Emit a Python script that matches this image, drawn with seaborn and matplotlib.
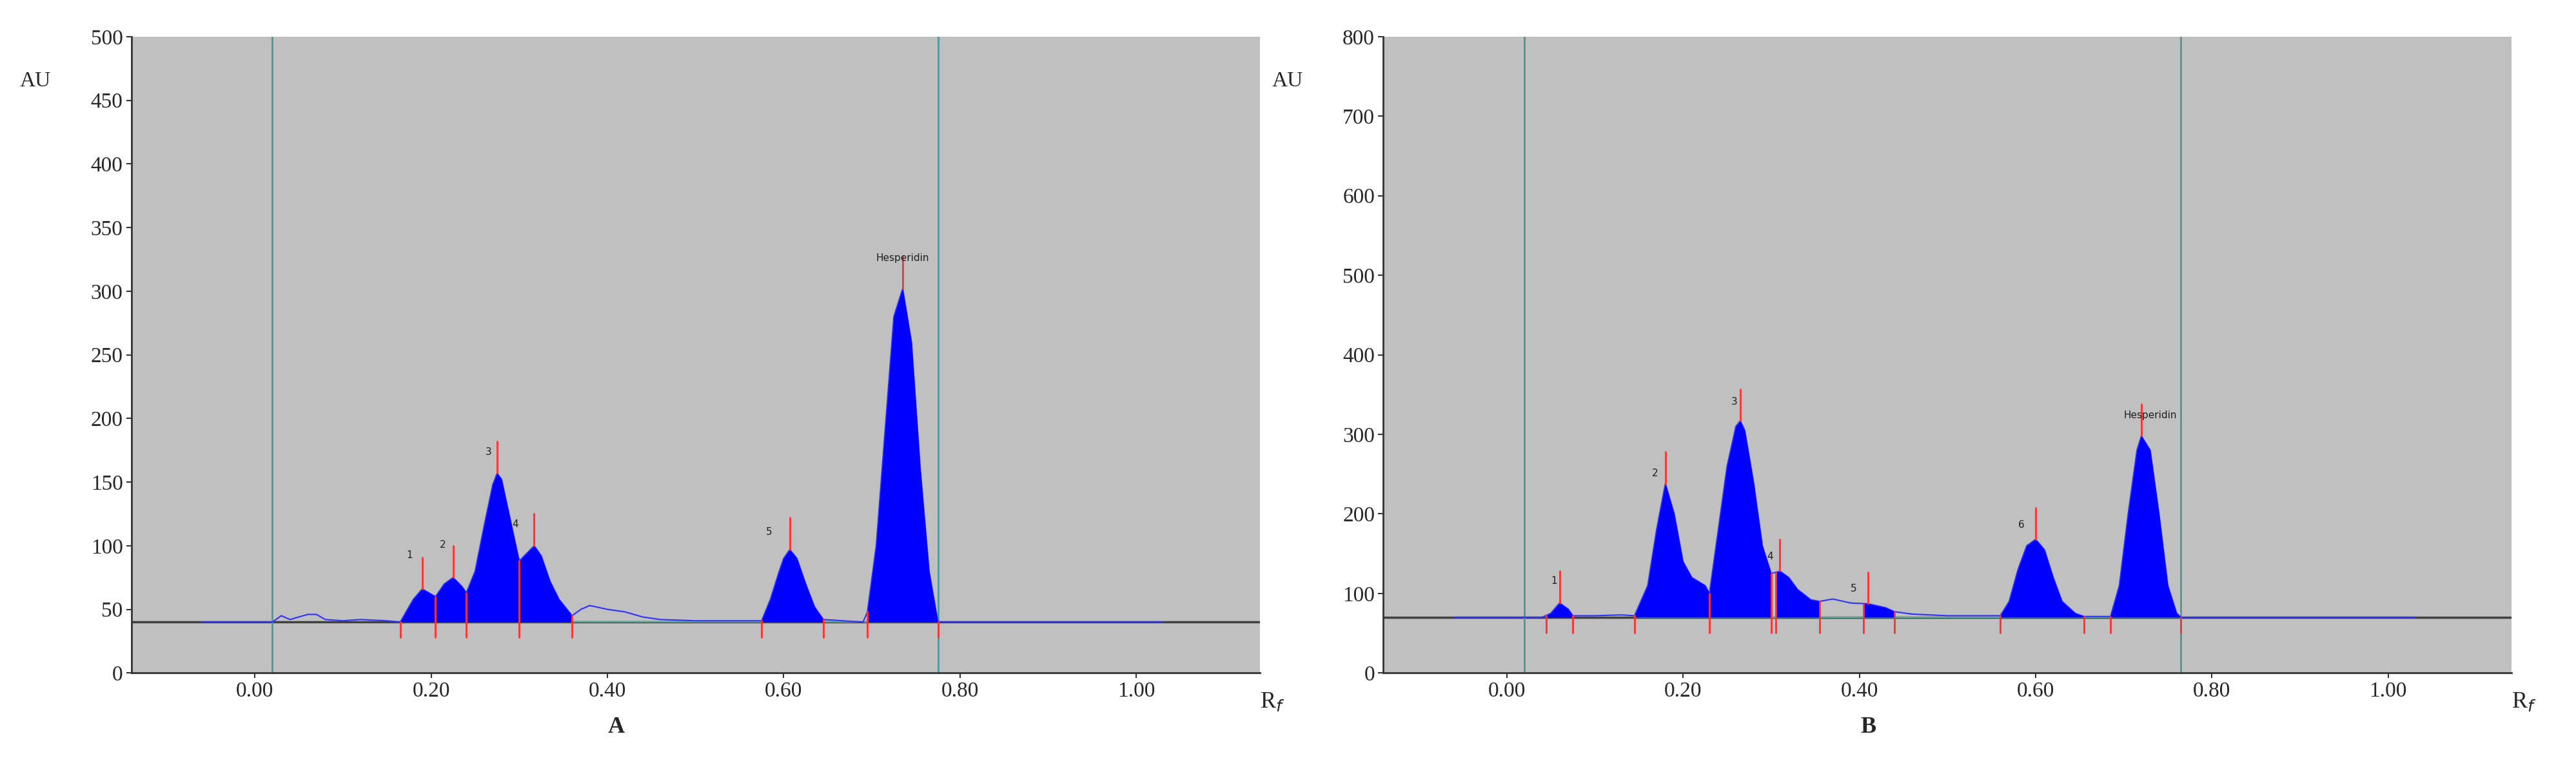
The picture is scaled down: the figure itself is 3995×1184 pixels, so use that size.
import numpy as np
import pandas as pd
import matplotlib
matplotlib.use("Agg")
import matplotlib.pyplot as plt
import seaborn as sns

# ---- data ----
rf_a = [-0.06, 0.02, 0.03, 0.04, 0.06, 0.07, 0.08, 0.10, 0.12, 0.15, 0.165, 0.18, 0.19, 0.20, 0.205, 0.215,
        0.225, 0.235, 0.24, 0.25, 0.26, 0.27, 0.275, 0.28, 0.29, 0.30, 0.31, 0.317, 0.325, 0.335, 0.345,
        0.36, 0.37, 0.38, 0.40, 0.42, 0.44, 0.46, 0.50, 0.55, 0.575, 0.585, 0.595, 0.60, 0.607, 0.615,
        0.625, 0.635, 0.645, 0.69, 0.695, 0.705, 0.715, 0.725, 0.735, 0.745, 0.755, 0.765, 0.775, 1.03]
au_a = [40, 40, 45, 42, 46, 46, 42, 41, 42, 41, 40, 58, 66, 62, 60, 70,
        75, 68, 63, 80, 115, 148, 157, 152, 120, 88, 95, 100, 92, 72, 58,
        45, 50, 53, 50, 48, 44, 42, 41, 41, 41, 58, 80, 90, 97, 90,
        70, 52, 42, 40, 48, 100, 190, 280, 302, 260, 160, 80, 40, 40]
fills_a = [(0.165, 0.36), (0.575, 0.645), (0.695, 0.775)]
splits_a = [0.165, 0.205, 0.24, 0.30, 0.36, 0.575, 0.645, 0.695, 0.775]
peaks_a = [0.19, 0.225, 0.275, 0.317, 0.607, 0.735]
labels_a = ["1", "2", "3", "4", "5", "Hesperidin"]
label_pos_a = [(0.172, 89), (0.21, 97), (0.262, 170), (0.292, 113), (0.58, 107), (0.735, 322)]
base_a = 40

rf_b = [-0.06, 0.04, 0.05, 0.06, 0.07, 0.075, 0.10, 0.13, 0.145, 0.16, 0.17, 0.18, 0.19, 0.20, 0.21,
        0.225, 0.23, 0.24, 0.25, 0.26, 0.265, 0.27, 0.28, 0.29, 0.30, 0.31, 0.32, 0.33, 0.345, 0.355,
        0.37, 0.39, 0.41, 0.43, 0.44, 0.46, 0.50, 0.56, 0.57, 0.58, 0.59, 0.60, 0.61, 0.62, 0.63, 0.645,
        0.655, 0.685, 0.695, 0.705, 0.715, 0.72, 0.73, 0.74, 0.75, 0.76, 0.765, 1.03]
au_b = [70, 70, 75, 88, 80, 72, 72, 73, 72, 110, 180, 238, 200, 140, 120,
        110, 100, 180, 260, 310, 317, 305, 240, 160, 125, 128, 120, 105, 92, 90,
        93, 88, 87, 82, 77, 74, 72, 72, 90, 130, 160, 168, 155, 120, 90, 75,
        71, 71, 110, 200, 280, 298, 280, 200, 110, 75, 70, 70]
fills_b = [(0.045, 0.075), (0.145, 0.23), (0.23, 0.30), (0.305, 0.355), (0.405, 0.44), (0.56, 0.655), (0.685, 0.765)]
splits_b = [0.045, 0.075, 0.145, 0.23, 0.30, 0.305, 0.355, 0.405, 0.44, 0.56, 0.655, 0.685, 0.765]
peaks_b = [0.06, 0.18, 0.265, 0.31, 0.41, 0.60, 0.72]
labels_b = ["1", "2", "3", "4", "5", "6", "Hesperidin"]
label_pos_b = [(0.05, 110), (0.165, 245), (0.255, 335), (0.295, 140), (0.39, 100), (0.58, 180), (0.73, 318)]
base_b = 70

xticks = [0.0, 0.2, 0.4, 0.6, 0.8, 1.0]
xticklabels = ["0.00", "0.20", "0.40", "0.60", "0.80", "1.00"]
yticks_a = list(range(0, 501, 50))
yticks_b = list(range(0, 801, 100))

sns.set_theme(style="white")
plt.rcParams['font.family'] = ['Liberation Serif', 'DejaVu Serif']

fig = plt.figure(figsize=(39.95, 11.84), dpi=100)
axA = fig.add_axes([0.051, 0.118, 0.438, 0.834])
axB = fig.add_axes([0.537, 0.118, 0.438, 0.834])

def draw(ax, rf, au, fills, splits, peaks, labels, lpos, base, yticks, ymax, vlines, panel):
    ax.set_facecolor("#c0c0c0")
    rf = np.array(rf); au = np.array(au, dtype=float)
    ax.axhline(base, color="#404040", lw=2.5, zorder=1)
    for v in vlines:
        ax.axvline(v, color="#4a9a9a", lw=2, zorder=1)
    df = pd.DataFrame({"rf": rf, "au": au})
    sns.lineplot(data=df, x="rf", y="au", ax=ax, color="#3030ff", lw=1.5, zorder=3)
    fine = np.linspace(rf.min(), rf.max(), 3000)
    yf = np.interp(fine, rf, au)
    for a, b in fills:
        m = (fine >= a) & (fine <= b)
        ax.fill_between(fine[m], base, yf[m], color="#0000ff", lw=0, zorder=4)
    ax.plot([0.165 if panel == "A" else 0.145, splits[-1]], [base, base], color="#5aaa9a", lw=1.5, zorder=2)
    for s in splits:
        top = np.interp(s, rf, au)
        ax.plot([s, s], [base - 12 * ymax / 500, top], color="#ff3030", lw=2, zorder=5)
    for p in peaks:
        top = np.interp(p, rf, au)
        ax.plot([p, p], [top, top + 25 * ymax / 500], color="#ff3030", lw=2, zorder=5)
    for t, (x, y) in zip(labels, lpos):
        ax.text(x, y, t, fontsize=11, family="DejaVu Sans", ha="left" if t != "Hesperidin" else "center",
                va="bottom", color="#202020", zorder=6)
    ax.set_xlim(-0.14, 1.14)
    ax.set_ylim(0, ymax)
    ax.set_xticks(xticks)
    ax.set_xticklabels(xticklabels)
    ax.set_yticks(yticks)
    ax.tick_params(axis="both", labelsize=24, length=6, width=1.5, direction="out", left=True, bottom=True, color="#333333")
    for sp in ["top", "right"]:
        ax.spines[sp].set_visible(False)
    for sp in ["left", "bottom"]:
        ax.spines[sp].set_color("#333333"); ax.spines[sp].set_linewidth(2)
    ax.set_xlabel(""); ax.set_ylabel("")
    ax.text(-0.085, 0.93, "AU", transform=ax.transAxes, fontsize=24, ha="center", va="center")
    ax.text(1.0, -0.045, r"R$_f$", transform=ax.transAxes, fontsize=26, ha="left", va="center")
    ax.text(0.41, -0.085, panel, fontsize=26, fontweight="bold", ha="center", va="center",
            transform=ax.get_xaxis_transform())

draw(axA, rf_a, au_a, fills_a, splits_a, peaks_a, labels_a, label_pos_a, base_a, yticks_a, 500, [0.02, 0.775], "A")
draw(axB, rf_b, au_b, fills_b, splits_b, peaks_b, labels_b, label_pos_b, base_b, yticks_b, 800, [0.02, 0.765], "B")

fig.savefig("out.png", dpi=100, facecolor="white")
